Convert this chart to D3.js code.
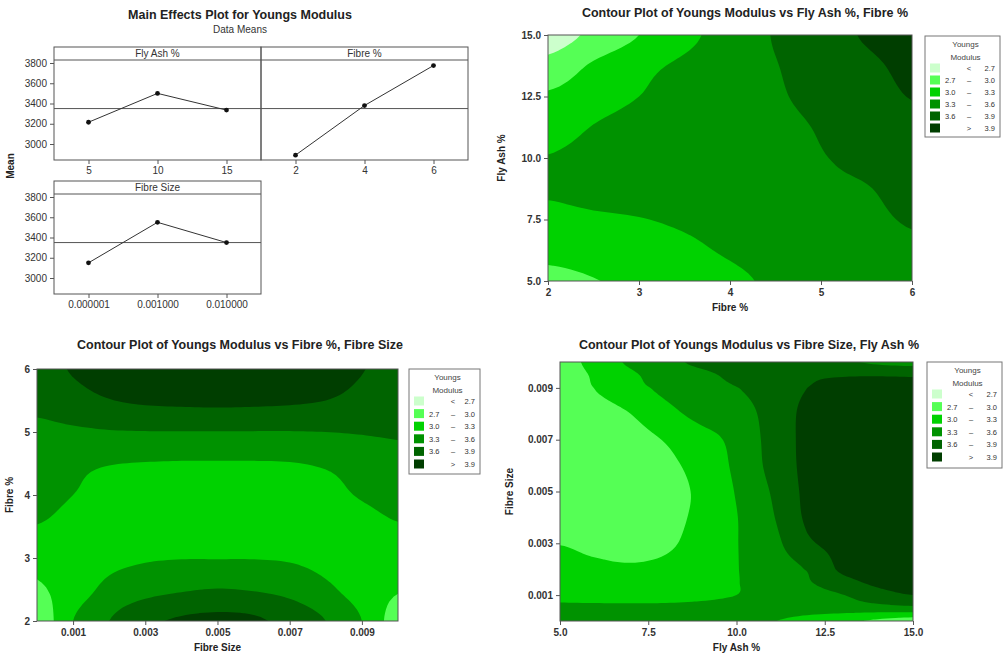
<!DOCTYPE html>
<html>
<head>
<meta charset="utf-8">
<script src="https://cdn.jsdelivr.net/npm/d3@7"></script>
<style>
body { margin: 0; background: #fff; }
svg { font-family: "Liberation Sans", Arial, sans-serif; }
</style>
</head>
<body>
<svg id="chart" width="1003" height="656"></svg>
<script>
// contour levels shared by the three contour plots
var levelBreaks = [2.7, 3.0, 3.3, 3.6, 3.9];
var levelColours = ["#ccffcc", "#55ff55", "#00d200", "#009200", "#006400", "#003e00"];
var legendFrom = ["", "2.7", "3.0", "3.3", "3.6", ""];
var legendSign = ["<", "–", "–", "–", "–", ">"];
var legendTo = ["2.7", "3.0", "3.3", "3.6", "3.9", "3.9"];

// main effects (data means)
var meanTicks = [3000, 3200, 3400, 3600, 3800];
var grandMean = 3350;
var flyAshLevels = ["5", "10", "15"];
var flyAshMeans = [3215, 3500, 3335];
var fibreLevels = ["2", "4", "6"];
var fibreMeans = [2890, 3380, 3775];
var sizeLevels = ["0.000001", "0.001000", "0.010000"];
var sizeMeans = [3150, 3550, 3350];

// contour 1: Fly Ash % (rows) vs Fibre % (columns)
var c1Fibre = [2, 2.5, 3, 3.5, 4, 4.5, 5, 5.5, 6];
var c1Ash = [5, 6.25, 7.5, 8.75, 10, 11.25, 12.5, 13.75, 15];
var c1Z = [
  [2.93, 2.99, 3.06, 3.16, 3.25, 3.34, 3.41, 3.47, 3.52],
  [3.08, 3.13, 3.19, 3.25, 3.33, 3.40, 3.46, 3.51, 3.56],
  [3.22, 3.26, 3.29, 3.34, 3.40, 3.45, 3.50, 3.55, 3.62],
  [3.33, 3.38, 3.42, 3.46, 3.50, 3.53, 3.56, 3.59, 3.68],
  [3.31, 3.38, 3.43, 3.47, 3.51, 3.55, 3.59, 3.66, 3.74],
  [3.18, 3.31, 3.39, 3.45, 3.50, 3.54, 3.62, 3.73, 3.83],
  [3.04, 3.18, 3.30, 3.40, 3.49, 3.57, 3.68, 3.79, 3.91],
  [2.80, 3.04, 3.22, 3.35, 3.47, 3.59, 3.72, 3.84, 3.97],
  [2.55, 2.77, 3.00, 3.22, 3.43, 3.62, 3.77, 3.93, 4.05]
];

// contour 2: Fibre % (rows) vs Fibre Size (columns)
var c2Size = [0.000001, 0.001, 0.002, 0.003, 0.004, 0.005, 0.006, 0.007, 0.008, 0.009, 0.01];
var c2Fibre = [2, 2.5, 3, 3.5, 4, 4.5, 5, 5.5, 6];
var c2Z = [
  [2.78, 3.30, 3.60, 3.83, 3.94, 3.98, 3.95, 3.80, 3.60, 3.30, 2.85],
  [2.96, 3.15, 3.38, 3.50, 3.57, 3.61, 3.58, 3.51, 3.36, 3.17, 3.02],
  [3.08, 3.14, 3.22, 3.27, 3.29, 3.29, 3.29, 3.27, 3.21, 3.14, 3.09],
  [3.29, 3.20, 3.14, 3.11, 3.10, 3.10, 3.10, 3.11, 3.15, 3.21, 3.28],
  [3.40, 3.30, 3.22, 3.18, 3.16, 3.15, 3.16, 3.18, 3.23, 3.32, 3.38],
  [3.45, 3.36, 3.31, 3.29, 3.28, 3.28, 3.28, 3.29, 3.33, 3.40, 3.47],
  [3.52, 3.55, 3.58, 3.59, 3.59, 3.59, 3.59, 3.59, 3.60, 3.62, 3.64],
  [3.70, 3.80, 3.89, 3.94, 3.96, 3.97, 3.96, 3.94, 3.90, 3.82, 3.74],
  [3.80, 3.92, 4.00, 4.05, 4.08, 4.09, 4.08, 4.05, 4.00, 3.91, 3.82]
];

// contour 3: Fibre Size (rows) vs Fly Ash % (columns)
var c3Ash = [5, 6, 7, 8, 9, 10, 11, 12, 13, 14, 15];
var c3Size = [0, 0.0005, 0.001, 0.0015, 0.002, 0.003, 0.004, 0.005, 0.006, 0.007, 0.008, 0.009, 0.0095, 0.01];
var c3Z = [
  [3.45, 3.45, 3.44, 3.42, 3.40, 3.36, 3.31, 3.22, 3.08, 2.95, 2.85],
  [3.36, 3.36, 3.36, 3.36, 3.37, 3.39, 3.40, 3.41, 3.45, 3.48, 3.52],
  [3.22, 3.20, 3.19, 3.20, 3.24, 3.30, 3.38, 3.47, 3.59, 3.78, 3.90],
  [3.15, 3.12, 3.11, 3.13, 3.19, 3.29, 3.41, 3.57, 3.80, 3.96, 4.00],
  [3.08, 3.05, 3.03, 3.06, 3.15, 3.29, 3.44, 3.62, 3.95, 4.00, 4.01],
  [2.99, 2.93, 2.90, 2.96, 3.10, 3.29, 3.50, 3.85, 3.98, 4.02, 4.02],
  [2.78, 2.80, 2.84, 2.93, 3.06, 3.29, 3.57, 3.94, 4.04, 4.06, 4.05],
  [2.74, 2.77, 2.82, 2.92, 3.05, 3.32, 3.62, 3.96, 4.05, 4.07, 4.06],
  [2.72, 2.76, 2.83, 2.94, 3.10, 3.36, 3.68, 3.97, 4.05, 4.07, 4.06],
  [2.72, 2.78, 2.88, 3.02, 3.20, 3.38, 3.70, 3.97, 4.04, 4.06, 4.05],
  [2.72, 2.85, 3.00, 3.21, 3.38, 3.45, 3.72, 3.96, 4.03, 4.05, 4.04],
  [2.76, 3.01, 3.20, 3.37, 3.50, 3.59, 3.76, 3.90, 3.96, 3.98, 3.97],
  [2.80, 3.05, 3.25, 3.44, 3.54, 3.67, 3.79, 3.86, 3.88, 3.88, 3.87],
  [2.85, 3.12, 3.35, 3.52, 3.66, 3.74, 3.78, 3.74, 3.65, 3.55, 3.50]
];

var svg = d3.select("#chart");

// ---------- main effects plot ----------
svg.append("text").attr("x", 240).attr("y", 19).attr("text-anchor", "middle")
  .attr("font-size", "12.5px").attr("font-weight", "bold").attr("fill", "#222")
  .text("Main Effects Plot for Youngs Modulus");
svg.append("text").attr("x", 240).attr("y", 33).attr("text-anchor", "middle")
  .attr("font-size", "10px").attr("fill", "#333").text("Data Means");
svg.append("text").attr("transform", "translate(14,166) rotate(-90)")
  .attr("text-anchor", "middle").attr("font-size", "10px").attr("font-weight", "bold")
  .attr("fill", "#222").text("Mean");

function effectPanel(x0, top, w, levels, means, header, showY) {
  var g = svg.append("g");
  var x = d3.scalePoint().domain(levels).range([x0, x0 + w]).padding(0.5);
  var y = d3.scaleLinear().domain([3000, 3800]).range([top + 97, top + 16]);

  g.append("rect").attr("x", x0).attr("y", top).attr("width", w).attr("height", 113)
    .attr("fill", "none").attr("stroke", "#555");
  g.append("line").attr("x1", x0).attr("x2", x0 + w).attr("y1", top + 13).attr("y2", top + 13)
    .attr("stroke", "#555");
  g.append("text").attr("x", x0 + w / 2).attr("y", top + 10).attr("text-anchor", "middle")
    .attr("font-size", "10px").attr("fill", "#333").text(header);
  g.append("line").attr("x1", x0).attr("x2", x0 + w)
    .attr("y1", y(grandMean)).attr("y2", y(grandMean)).attr("stroke", "#555");

  var pts = levels.map(function(l, i) { return [x(l), y(means[i])]; });
  g.append("path").attr("d", d3.line()(pts)).attr("fill", "none").attr("stroke", "#333");
  g.selectAll("circle.pt").data(pts).join("circle").attr("class", "pt")
    .attr("cx", function(d) { return d[0]; }).attr("cy", function(d) { return d[1]; })
    .attr("r", 2.4).attr("fill", "#111");

  var ax = g.append("g").attr("transform", "translate(0," + (top + 113) + ")")
    .call(d3.axisBottom(x).tickSize(4).tickPadding(3).tickSizeOuter(0));
  ax.select(".domain").remove();
  ax.selectAll("text").attr("font-size", "10px").attr("fill", "#333")
    .attr("font-family", "'Liberation Sans', Arial, sans-serif");
  ax.selectAll("line").attr("stroke", "#555");

  if (showY) {
    var ay = g.append("g").attr("transform", "translate(" + x0 + ",0)")
      .call(d3.axisLeft(y).tickValues(meanTicks).tickFormat(d3.format("d")).tickSize(4).tickSizeOuter(0));
    ay.select(".domain").remove();
    ay.selectAll("text").attr("font-size", "10px").attr("fill", "#333")
      .attr("font-family", "'Liberation Sans', Arial, sans-serif");
    ay.selectAll("line").attr("stroke", "#555");
  }
}

effectPanel(54, 47, 207, flyAshLevels, flyAshMeans, "Fly Ash %", true);
effectPanel(261, 47, 207, fibreLevels, fibreMeans, "Fibre %", false);
effectPanel(54, 181, 207, sizeLevels, sizeMeans, "Fibre Size", true);

// ---------- contour plots ----------
function catmull(p0, p1, p2, p3, t) {
  return 0.5 * (2 * p1 + (-p0 + p2) * t + (2 * p0 - 5 * p1 + 4 * p2 - p3) * t * t +
    (-p0 + 3 * p1 - 3 * p2 + p3) * t * t * t);
}
// finer sampling of the read grid, only so the filled bands render smoothly
function refine(arr, k) {
  var n = arr.length, out = [];
  for (var i = 0; i < n - 1; i++) {
    for (var j = 0; j < k; j++) {
      out.push(catmull(arr[Math.max(i - 1, 0)], arr[i], arr[i + 1], arr[Math.min(i + 2, n - 1)], j / k));
    }
  }
  out.push(arr[n - 1]);
  return out;
}

function legend(bx, by, w, h, step) {
  var g = svg.append("g");
  g.append("rect").attr("x", bx).attr("y", by).attr("width", w).attr("height", h)
    .attr("fill", "#fff").attr("stroke", "#777");
  g.append("text").attr("x", bx + w / 2 + 3).attr("y", by + 11).attr("text-anchor", "middle")
    .attr("font-size", "8px").attr("fill", "#444").text("Youngs");
  g.append("text").attr("x", bx + w / 2 + 3).attr("y", by + 24).attr("text-anchor", "middle")
    .attr("font-size", "8px").attr("fill", "#444").text("Modulus");
  levelColours.forEach(function(c, i) {
    var yy = by + 32 + i * step;
    g.append("rect").attr("x", bx + 5).attr("y", yy - 4.5).attr("width", 10).attr("height", 9).attr("fill", c);
    g.append("text").attr("x", bx + 20).attr("y", yy + 3).attr("font-size", "7.5px").attr("fill", "#333").text(legendFrom[i]);
    g.append("text").attr("x", bx + 44).attr("y", yy + 3).attr("text-anchor", "middle")
      .attr("font-size", "7.5px").attr("fill", "#333").text(legendSign[i]);
    g.append("text").attr("x", bx + w - 5).attr("y", yy + 3).attr("text-anchor", "end")
      .attr("font-size", "7.5px").attr("fill", "#333").text(legendTo[i]);
  });
}

function contourPlot(cfg) {
  var g = svg.append("g");
  var x = d3.scaleLinear().domain(cfg.xDomain).range([cfg.left, cfg.right]);
  var y = d3.scaleLinear().domain(cfg.yDomain).range([cfg.bottom, cfg.top]);

  var k = 8;
  var rows = cfg.z.map(function(r) { return refine(r, k); });
  var nx = rows[0].length;
  var cols = d3.range(nx).map(function(i) { return refine(rows.map(function(r) { return r[i]; }), k); });
  var ny = cols[0].length;
  var values = new Array(nx * ny);
  for (var j = 0; j < ny; j++) for (var i = 0; i < nx; i++) values[i + j * nx] = cols[i][j];

  var ix = d3.scaleLinear().domain(cfg.xs.map(function(d, i) { return i * k; })).range(cfg.xs).clamp(true);
  var iy = d3.scaleLinear().domain(cfg.ys.map(function(d, i) { return i * k; })).range(cfg.ys).clamp(true);
  var path = d3.geoPath(d3.geoTransform({
    point: function(px, py) { this.stream.point(x(ix(px - 0.5)), y(iy(py - 0.5))); }
  }));
  var bands = d3.contours().size([nx, ny]).thresholds(levelBreaks)(values);

  var clipId = "clip" + cfg.id;
  svg.append("clipPath").attr("id", clipId).append("rect")
    .attr("x", cfg.left).attr("y", cfg.top)
    .attr("width", cfg.right - cfg.left).attr("height", cfg.bottom - cfg.top);
  var area = g.append("g").attr("clip-path", "url(#" + clipId + ")");
  area.append("rect").attr("x", cfg.left).attr("y", cfg.top)
    .attr("width", cfg.right - cfg.left).attr("height", cfg.bottom - cfg.top)
    .attr("fill", levelColours[0]);
  area.selectAll("path").data(bands).join("path")
    .attr("d", path)
    .attr("fill", function(d, i) { return levelColours[i + 1]; });
  g.append("rect").attr("x", cfg.left).attr("y", cfg.top)
    .attr("width", cfg.right - cfg.left).attr("height", cfg.bottom - cfg.top)
    .attr("fill", "none").attr("stroke", "#555");

  var ax = g.append("g").attr("transform", "translate(0," + cfg.bottom + ")")
    .call(d3.axisBottom(x).tickValues(cfg.xTicks).tickFormat(cfg.xFormat).tickSize(4).tickPadding(4).tickSizeOuter(0));
  var ay = g.append("g").attr("transform", "translate(" + cfg.left + ",0)")
    .call(d3.axisLeft(y).tickValues(cfg.yTicks).tickFormat(cfg.yFormat).tickSize(4).tickPadding(3).tickSizeOuter(0));
  [ax, ay].forEach(function(a) {
    a.select(".domain").remove();
    a.selectAll("line").attr("stroke", "#555");
    a.selectAll("text").attr("font-size", "10px").attr("font-weight", "bold").attr("fill", "#333")
      .attr("font-family", "'Liberation Sans', Arial, sans-serif");
  });

  g.append("text").attr("x", cfg.titleX).attr("y", cfg.titleY).attr("text-anchor", "middle")
    .attr("font-size", "12.5px").attr("font-weight", "bold").attr("fill", "#222").text(cfg.title);
  g.append("text").attr("x", (cfg.left + cfg.right) / 2).attr("y", cfg.bottom + 30)
    .attr("text-anchor", "middle").attr("font-size", "10px").attr("font-weight", "bold")
    .attr("fill", "#222").text(cfg.xLabel);
  g.append("text")
    .attr("transform", "translate(" + cfg.yLabelX + "," + ((cfg.top + cfg.bottom) / 2) + ") rotate(-90)")
    .attr("text-anchor", "middle").attr("font-size", "10px").attr("font-weight", "bold")
    .attr("fill", "#222").text(cfg.yLabel);

  legend(cfg.legendX, cfg.legendY, cfg.legendW, cfg.legendH, cfg.legendStep);
}

contourPlot({
  id: 1, xs: c1Fibre, ys: c1Ash, z: c1Z,
  xDomain: [2, 6], yDomain: [5, 15],
  left: 548, right: 912, top: 35, bottom: 281,
  xTicks: [2, 3, 4, 5, 6], xFormat: d3.format("d"),
  yTicks: [5, 7.5, 10, 12.5, 15], yFormat: d3.format(".1f"),
  title: "Contour Plot of Youngs Modulus vs Fly Ash %, Fibre %", titleX: 745, titleY: 17,
  xLabel: "Fibre %", yLabel: "Fly Ash %", yLabelX: 505,
  legendX: 925, legendY: 36, legendW: 75, legendH: 101, legendStep: 12
});

contourPlot({
  id: 2, xs: c2Size, ys: c2Fibre, z: c2Z,
  xDomain: [0.000001, 0.01], yDomain: [2, 6],
  left: 37, right: 398, top: 369, bottom: 621,
  xTicks: [0.001, 0.003, 0.005, 0.007, 0.009], xFormat: d3.format(".3f"),
  yTicks: [2, 3, 4, 5, 6], yFormat: d3.format("d"),
  title: "Contour Plot of Youngs Modulus vs Fibre %, Fibre Size", titleX: 240, titleY: 349,
  xLabel: "Fibre Size", yLabel: "Fibre %", yLabelX: 13,
  legendX: 409, legendY: 369, legendW: 71, legendH: 105, legendStep: 12.6
});

contourPlot({
  id: 3, xs: c3Ash, ys: c3Size, z: c3Z,
  xDomain: [5, 15], yDomain: [0, 0.01],
  left: 560, right: 913, top: 362, bottom: 621,
  xTicks: [5, 7.5, 10, 12.5, 15], xFormat: d3.format(".1f"),
  yTicks: [0.001, 0.003, 0.005, 0.007, 0.009], yFormat: d3.format(".3f"),
  title: "Contour Plot of Youngs Modulus vs Fibre Size, Fly Ash %", titleX: 749, titleY: 349,
  xLabel: "Fly Ash %", yLabel: "Fibre Size", yLabelX: 513,
  legendX: 927, legendY: 362, legendW: 75, legendH: 106, legendStep: 12.6
});
</script>
</body>
</html>
